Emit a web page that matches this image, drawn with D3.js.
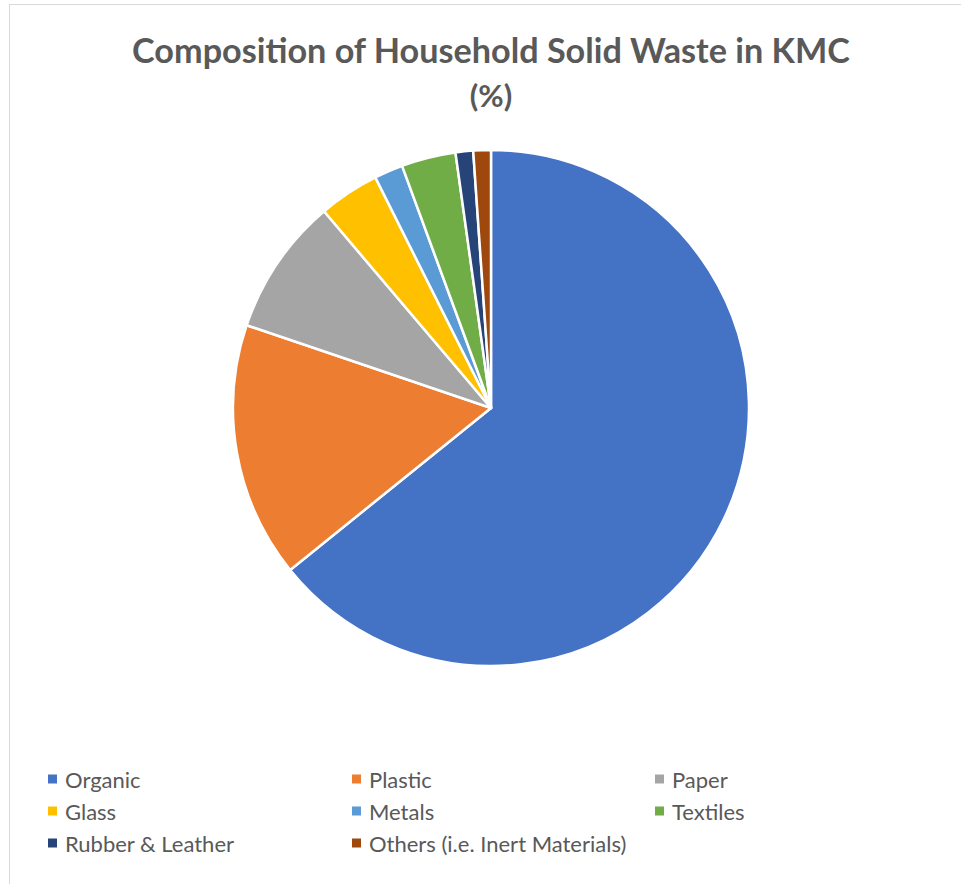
<!DOCTYPE html>
<html>
<head>
<meta charset="utf-8">
<script src="https://cdn.jsdelivr.net/npm/d3@7"></script>
<style>
  html, body { margin: 0; padding: 0; background: #fff; }
  svg { display: block; }
</style>
</head>
<body>
<svg id="chart" width="961" height="884"></svg>
<script>
// Household solid waste composition (%)
const categories = ["Organic", "Plastic", "Paper", "Glass", "Metals", "Textiles", "Rubber & Leather", "Others (i.e. Inert Materials)"];
const values = [64.2, 16.0, 8.6, 3.8, 1.8, 3.4, 1.1, 1.1];
const colors = ["#4472C4", "#ED7D31", "#A5A5A5", "#FFC000", "#5B9BD5", "#70AD47", "#264478", "#9E480E"];
const titleLines = ["Composition of Household Solid Waste in KMC", "(%)"];

const W = 961, H = 884;
const svg = d3.select("#chart");
const font = "Lato, 'Open Sans', 'DejaVu Sans', sans-serif";

// chart area frame
svg.append("rect")
  .attr("x", 9.5).attr("y", 4.5)
  .attr("width", W + 10).attr("height", H + 10)
  .attr("fill", "#fff").attr("stroke", "#D9D9D9").attr("stroke-width", 1);

// title
const cx = 491, cy = 408, r = 258;
const title = svg.append("g");
const titleY = [49, 95];
titleLines.forEach((t, i) => {
  const tx = title.append("text")
    .attr("x", cx).attr("y", titleY[i])
    .attr("text-anchor", "middle").attr("dominant-baseline", "central")
    .attr("font-family", font).attr("font-weight", "bold")
    .attr("font-size", 31).attr("fill", "#595959")
    .text(t);
  if (i === 0) {
    const w = tx.node().getComputedTextLength();
    const target = 718;
    if (w > 0) tx.attr("font-size", 31 * target / w);
  }
});

// pie
const data = categories.map((c, i) => ({ name: c, value: values[i], color: colors[i] }));
const pie = d3.pie().value(d => d.value).sort(null);
const arc = d3.arc().innerRadius(0).outerRadius(r);

svg.append("g")
  .attr("transform", `translate(${cx},${cy})`)
  .selectAll("path")
  .data(pie(data))
  .join("path")
  .attr("d", arc)
  .attr("fill", d => d.data.color)
  .attr("stroke", "#fff")
  .attr("stroke-width", 2.5)
  .attr("stroke-linejoin", "round");

// legend: three columns, three rows
const colX = [48, 352, 655];
const rowY = [779, 811, 843];
const legend = svg.append("g");
data.forEach((d, i) => {
  const col = i % 3, row = Math.floor(i / 3);
  const g = legend.append("g").attr("transform", `translate(${colX[col]},${rowY[row]})`);
  g.append("rect").attr("x", 0).attr("y", -4.5).attr("width", 9).attr("height", 9).attr("fill", d.color);
  g.append("text")
    .attr("x", 17).attr("y", 0)
    .attr("dominant-baseline", "central")
    .attr("font-family", font).attr("font-size", 22).attr("fill", "#595959")
    .text(d.name);
});
</script>
</body>
</html>
